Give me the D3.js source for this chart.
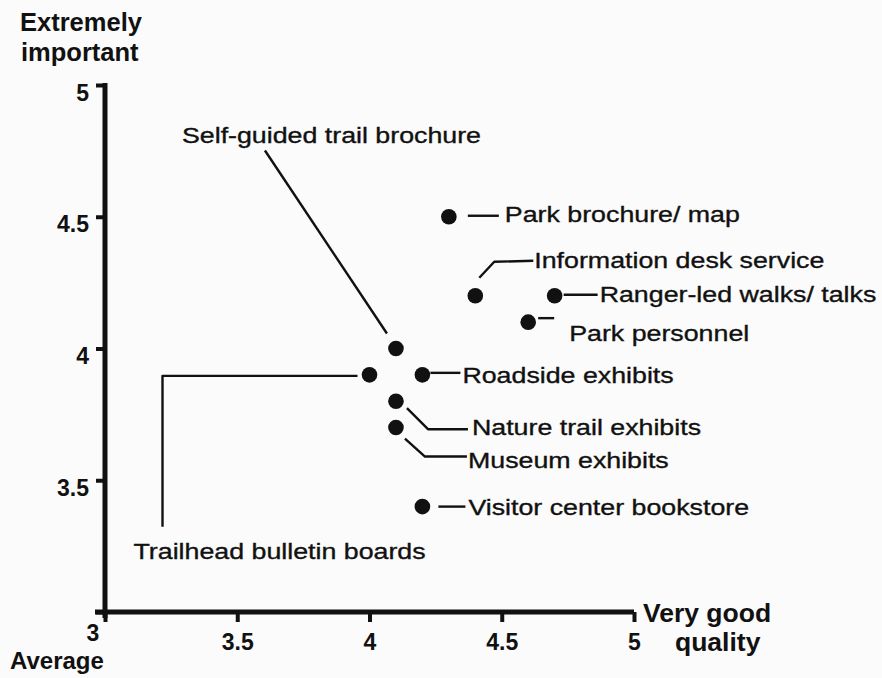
<!DOCTYPE html>
<html><head><meta charset="utf-8">
<script src="https://cdn.jsdelivr.net/npm/d3@7"></script>
<style>body{margin:0;background:#fbfbfb} svg{display:block}</style>
</head><body><svg id="c" width="882" height="678"></svg>
<script>
// ---- data ----
const services = ["Park brochure/ map", "Information desk service", "Ranger-led walks/ talks",
  "Park personnel", "Self-guided trail brochure", "Trailhead bulletin boards",
  "Roadside exhibits", "Nature trail exhibits", "Museum exhibits", "Visitor center bookstore"];
const quality    = [4.3, 4.4, 4.7, 4.6, 4.1, 4.0, 4.2, 4.1, 4.1, 4.2];
const importance = [4.5, 4.2, 4.2, 4.1, 4.0, 3.9, 3.9, 3.8, 3.7, 3.4];
const xTicks = [3, 3.5, 4, 4.5, 5];
const yTicks = [3, 3.5, 4, 4.5, 5];
const xTickLabels = ["", "3.5", "4", "4.5", "5"];
const yTickLabels = ["", "3.5", "4", "4.5", "5"];

// ---- annotation layout (pixel offsets from each point) ----
const leaders = [
  [[19,-1],[50,-1]],
  [[4,-18],[19,-34],[58,-35]],
  [[9,-1],[43,-1]],
  [[10,-4],[26,-4]],
  [[-131,-198],[-9,-15]],
  [[-12,1],[-207,1],[-207,152]],
  [[8,-2],[38,-2]],
  [[11,7],[32,28],[72,28]],
  [[9,11],[29,29],[71,29]],
  [[16,0],[43,0]]
];
const labelPos = [[56,5],[59,-28],[45,6],[41,19],[-214,-206],[-236,184],[40,8],[76,34],[72,40],[46,8]];

const svg = d3.select("#c");
const W = 882, H = 678;
svg.append("rect").attr("width", W).attr("height", H).attr("fill", "#fbfbfb");
const ink = "#111";
const font = "'Liberation Sans', Arial, Helvetica, sans-serif";

const x = d3.scaleLinear().domain([3, 5]).range([105, 634]);
const y = d3.scaleLinear().domain([3, 5]).range([612, 85]);

// axes
const gx = svg.append("g").attr("transform", `translate(0,${y(3)})`)
  .call(d3.axisBottom(x).tickValues(xTicks).tickSize(10).tickSizeOuter(0)
    .tickFormat((d, i) => xTickLabels[i]));
const gy = svg.append("g").attr("transform", `translate(${x(3)},0)`)
  .call(d3.axisLeft(y).tickValues(yTicks).tickSize(9).tickSizeOuter(0)
    .tickFormat((d, i) => yTickLabels[i]));
[gx, gy].forEach(g => {
  g.select(".domain").remove();
  g.selectAll(".tick line").attr("stroke", ink).attr("stroke-width", 4);
  g.selectAll(".tick text").attr("fill", ink).attr("font-family", font)
    .attr("font-weight", "bold").attr("font-size", 23);
});
gx.selectAll(".tick text").attr("dy", null).attr("y", 38);
gy.selectAll(".tick text").attr("dy", "0.35em").attr("x", -16).attr("y", 7);

// axis lines
svg.append("line").attr("x1", x(3) - 10).attr("x2", x(5)).attr("y1", y(3)).attr("y2", y(3))
  .attr("stroke", ink).attr("stroke-width", 5);
svg.append("line").attr("x1", x(3)).attr("x2", x(3)).attr("y1", y(3) + 6).attr("y2", y(5) - 2)
  .attr("stroke", ink).attr("stroke-width", 5);

// axis titles & end labels
function bold(t, px, py, size, anchor) {
  svg.append("text").attr("x", px).attr("y", py).attr("font-family", font)
    .attr("font-weight", "bold").attr("font-size", size).attr("fill", ink)
    .attr("text-anchor", anchor || "start").text(t);
}
bold("Extremely", 20, 31, 25.5);
bold("important", 21, 61, 25.5);
bold("3", x(3) - 12, y(3) + 29, 23, "middle");
bold("Average", 10, 669, 24);
bold("Very good", x(5) + 9, y(3) + 10, 26.5);
bold("quality", x(5) + 41, y(3) + 39, 26.5);

// leaders
const line = d3.line();
quality.forEach((q, i) => {
  const px = x(q), py = y(importance[i]);
  svg.append("path")
    .attr("d", line(leaders[i].map(([dx, dy]) => [px + dx, py + dy])))
    .attr("fill", "none").attr("stroke", ink).attr("stroke-width", 2.4)
    .attr("stroke-linejoin", "round");
});

// points
svg.append("g").selectAll("circle").data(quality).join("circle")
  .attr("cx", d => x(d)).attr("cy", (d, i) => y(importance[i]))
  .attr("r", 7.8).attr("fill", ink);

// labels
quality.forEach((q, i) => {
  const px = x(q) + labelPos[i][0], py = y(importance[i]) + labelPos[i][1];
  svg.append("text").attr("transform", `translate(${px},${py}) scale(1.19,1)`)
    .attr("font-family", font).attr("font-size", 22.5).attr("fill", ink)
    .attr("stroke", ink).attr("stroke-width", 0.35)
    .text(services[i]);
});
</script></body></html>
